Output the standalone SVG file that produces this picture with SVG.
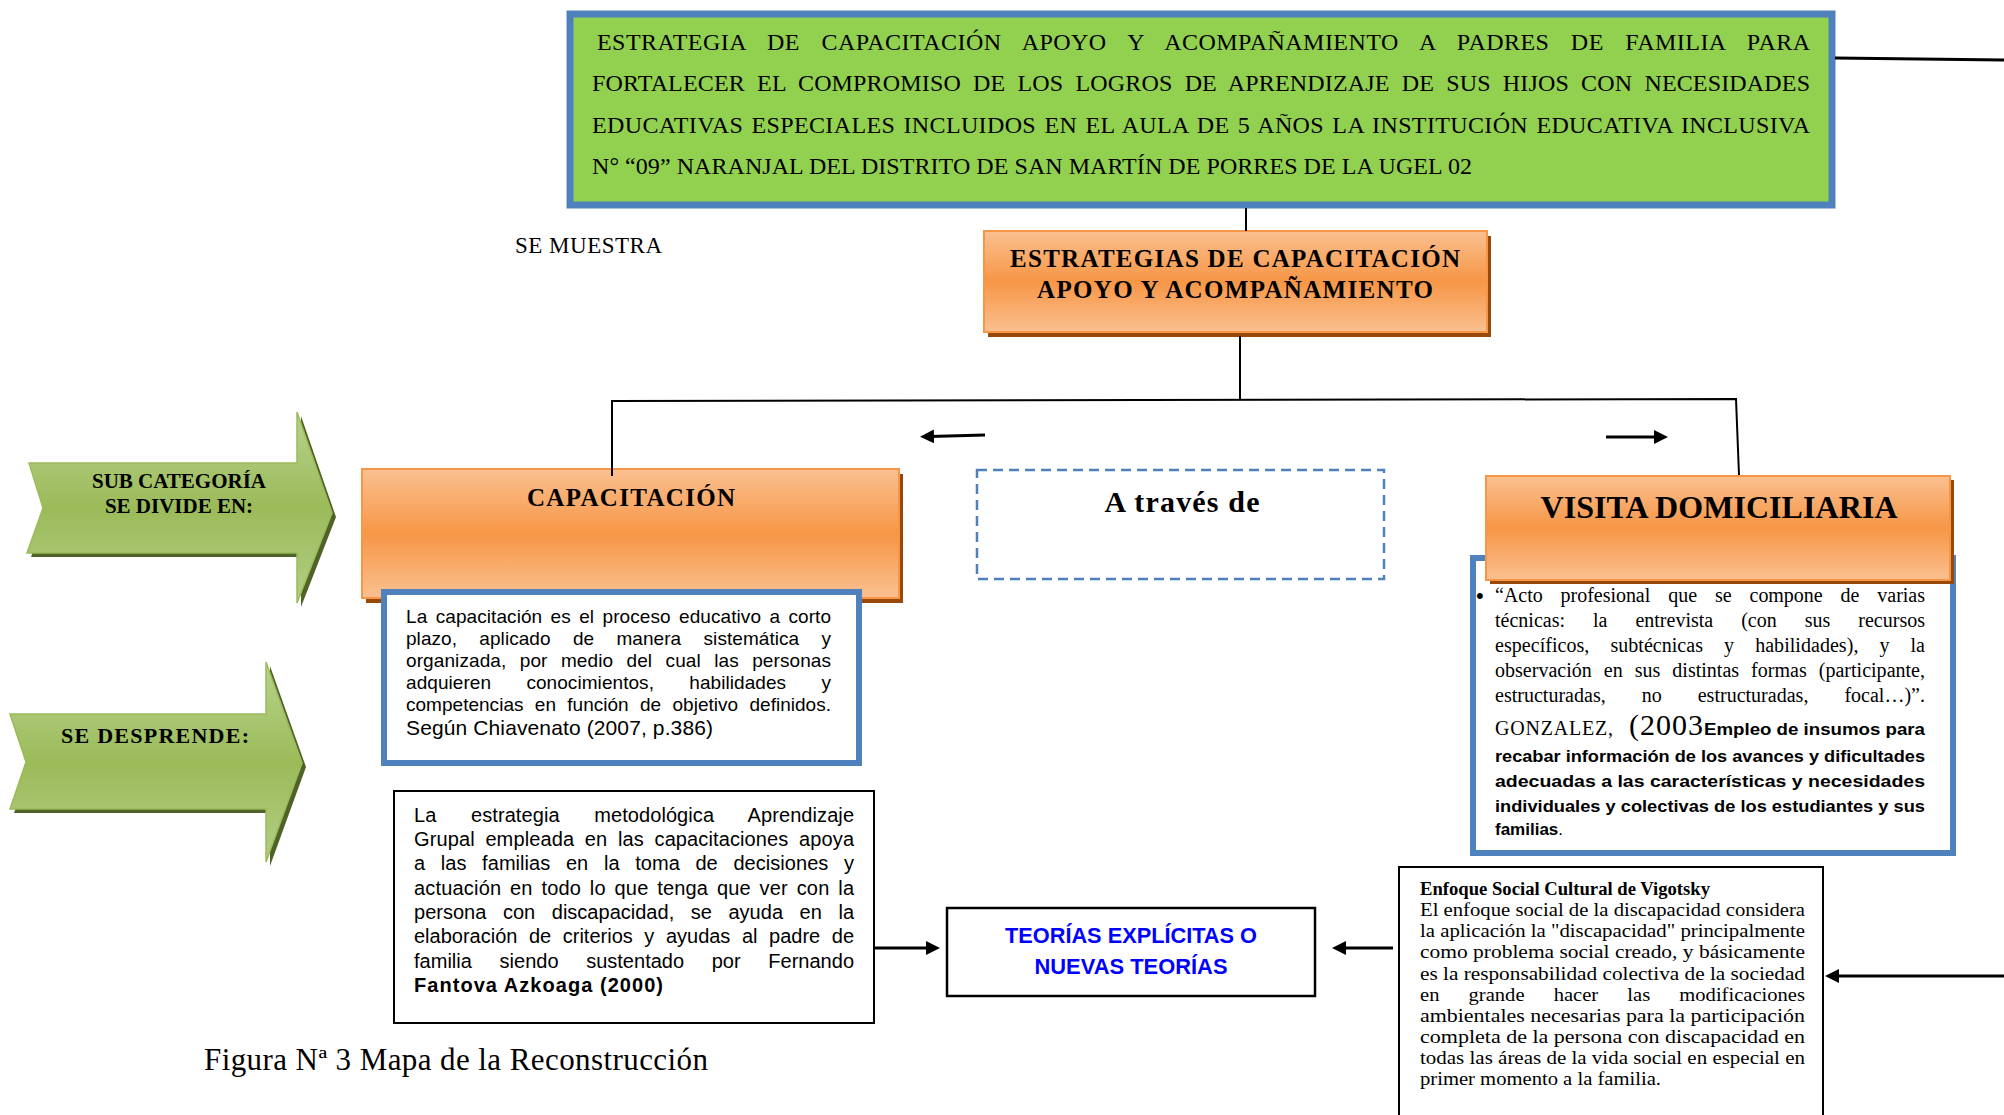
<svg xmlns="http://www.w3.org/2000/svg" width="2004" height="1115" viewBox="0 0 2004 1115">
<defs>
<linearGradient id="og" x1="0" y1="0" x2="0" y2="1">
<stop offset="0" stop-color="#FAC090"/><stop offset="0.5" stop-color="#F79646"/><stop offset="1" stop-color="#FAC090"/>
</linearGradient>
<linearGradient id="gg" x1="0" y1="0" x2="0" y2="1">
<stop offset="0" stop-color="#B9D38F"/><stop offset="0.5" stop-color="#9BBB59"/><stop offset="1" stop-color="#B3CE86"/>
</linearGradient>
<marker id="ah" viewBox="0 0 14 14" refX="4" refY="7" markerWidth="14" markerHeight="14" markerUnits="userSpaceOnUse" orient="auto">
<path d="M0,0 L14,7 L0,14 z" fill="#000"/>
</marker>
<style>
.serif{font-family:"Liberation Serif","Times New Roman",serif;}
.sans{font-family:"Liberation Sans",Arial,sans-serif;}
.b{font-weight:bold;}
.obox{fill:url(#og);stroke:#F79646;stroke-width:2;}
.oshadow{fill:#984807;}
.gar{fill:url(#gg);stroke:#9BBB59;stroke-width:1.5;}
.gshadow{fill:#4F6228;}
.bluebox{fill:#fff;stroke:#4F81BD;stroke-width:6;}
.blk{fill:#fff;stroke:#000;stroke-width:2;}
.con{fill:none;stroke:#000;stroke-width:2;}
.arr{fill:none;stroke:#000;stroke-width:3;marker-end:url(#ah);}
.title{font-size:24px;}
.vis{font-size:20px;}
.visb{font-size:17px;}
.cap{font-size:19px;}
.est{font-size:20px;}
.vig{font-size:18px;}
</style>
</defs>
<rect width="2004" height="1115" fill="#fff"/>

<g id="title-node">
<rect x="570" y="14" width="1262" height="191" fill="#92D050" stroke="#4F81BD" stroke-width="7"/>
<g class="serif title">
<text x="597" y="50" word-spacing="15" textLength="1213">ESTRATEGIA DE CAPACITACIÓN APOYO Y ACOMPAÑAMIENTO A PADRES DE FAMILIA PARA</text>
<text x="592" y="91" word-spacing="6" textLength="1218">FORTALECER EL COMPROMISO DE LOS LOGROS DE APRENDIZAJE DE SUS HIJOS CON NECESIDADES</text>
<text x="592" y="133" word-spacing="2" textLength="1218">EDUCATIVAS ESPECIALES INCLUIDOS EN EL AULA DE 5 AÑOS  LA INSTITUCIÓN EDUCATIVA INCLUSIVA</text>
<text x="592" y="174" textLength="880">N° “09” NARANJAL DEL DISTRITO DE SAN MARTÍN DE PORRES DE LA UGEL 02</text>
</g>
</g>

<g id="se-muestra">
<text class="serif" x="515" y="253" font-size="23" textLength="147">SE MUESTRA</text>
</g>

<g id="estrategias-node">
<rect class="oshadow" x="988" y="236" width="503" height="101"/>
<rect class="obox" x="984" y="231" width="503" height="101"/>
<g class="serif b" font-size="25" text-anchor="middle">
<text x="1235" y="267" textLength="450">ESTRATEGIAS DE CAPACITACIÓN</text>
<text x="1235" y="298" textLength="396">APOYO Y ACOMPAÑAMIENTO</text>
</g>
</g>

<g id="sub-categoria-arrow">
<path class="gshadow" d="M32,467 L301,467 L301,416 L336,517 L301,607 L301,557 L31,557 L47,512 Z"/>
<path class="gar" d="M29,463 L297,463 L297,412 L332,513 L297,603 L297,553 L27,553 L43,508 Z"/>
<g class="serif b" font-size="21" text-anchor="middle">
<text x="179" y="488">SUB CATEGORÍA</text>
<text x="179" y="513">SE DIVIDE EN:</text>
</g>
</g>

<g id="se-desprende-arrow">
<path class="gshadow" d="M14,718 L270,718 L270,666 L306,767 L270,866 L270,813 L14,813 L30,766 Z"/>
<path class="gar" d="M10,714 L266,714 L266,662 L302,763 L266,862 L266,809 L10,809 L26,762 Z"/>
<text class="serif b" x="155" y="743" font-size="22" text-anchor="middle" textLength="188">SE DESPRENDE:</text>
</g>

<g id="capacitacion-node">
<rect class="oshadow" x="366" y="474" width="537" height="129"/>
<rect class="obox" x="362" y="469" width="537" height="129"/>
<text class="serif b" x="631" y="506" font-size="25" text-anchor="middle" textLength="208">CAPACITACIÓN</text>
</g>

<g id="capacitacion-definicion">
<rect class="bluebox" x="384" y="592" width="475" height="171"/>
<g class="sans cap">
<text x="406" y="623" word-spacing="3" textLength="425">La capacitación es el proceso educativo a corto</text>
<text x="406" y="645" word-spacing="17" textLength="425">plazo, aplicado de manera sistemática y</text>
<text x="406" y="667" word-spacing="8" textLength="425">organizada, por medio del cual las personas</text>
<text x="406" y="689" word-spacing="30" textLength="425">adquieren conocimientos, habilidades y</text>
<text x="406" y="711" word-spacing="6" textLength="425">competencias en función de objetivo definidos.</text>
<text x="406" y="735" font-size="21" textLength="307">Según Chiavenato (2007, p.386)</text>
</g>
</g>

<g id="a-traves-de-node">
<rect x="977" y="470" width="407" height="109" fill="none" stroke="#4F81BD" stroke-width="2.5" stroke-dasharray="10,6"/>
<text class="serif b" x="1182" y="512" font-size="30" text-anchor="middle" textLength="155">A través de</text>
</g>

<g id="visita-definicion">
<rect class="bluebox" x="1473" y="558" width="480" height="295"/>
<g class="serif vis">
<text x="1476" y="603" class="sans" font-size="22">•</text>
<text x="1495" y="602" word-spacing="13" textLength="430">“Acto profesional que se compone de varias</text>
<text x="1495" y="627" word-spacing="23" textLength="430">técnicas: la entrevista (con sus recursos</text>
<text x="1495" y="652" word-spacing="16" textLength="430">específicos, subtécnicas y habilidades), y la</text>
<text x="1495" y="677" word-spacing="7" textLength="430">observación en sus distintas formas (participante,</text>
<text x="1495" y="702" word-spacing="31" textLength="430">estructuradas, no estructuradas, focal…)”.</text>
<text x="1495" y="735" textLength="118">GONZALEZ,</text>
<text x="1629" y="735" font-size="30" textLength="74">(2003</text>
</g>
<g class="sans b visb">
<text x="1704" y="735" textLength="221" lengthAdjust="spacingAndGlyphs">Empleo de insumos para</text>
<text x="1495" y="762" textLength="430" lengthAdjust="spacingAndGlyphs">recabar información de los avances y dificultades</text>
<text x="1495" y="787" textLength="430" lengthAdjust="spacingAndGlyphs">adecuadas a las características y necesidades</text>
<text x="1495" y="812" textLength="430" lengthAdjust="spacingAndGlyphs">individuales y colectivas de los estudiantes y sus</text>
<text x="1495" y="835"><tspan>familias</tspan><tspan font-weight="normal">.</tspan></text>
</g>
</g>

<g id="visita-node">
<rect class="oshadow" x="1490" y="480" width="464" height="104"/>
<rect class="obox" x="1486" y="476" width="464" height="104"/>
<text class="serif b" x="1719" y="518" font-size="32" text-anchor="middle" textLength="357">VISITA DOMICILIARIA</text>
</g>

<g id="estrategia-metodologica">
<rect class="blk" x="394" y="791" width="480" height="232"/>
<g class="sans est">
<text x="414" y="822" word-spacing="29" textLength="440">La estrategia metodológica Aprendizaje</text>
<text x="414" y="846" word-spacing="5" textLength="440">Grupal empleada en las capacitaciones apoya</text>
<text x="414" y="870" word-spacing="10" textLength="440">a las familias en la toma de decisiones y</text>
<text x="414" y="895" word-spacing="3" textLength="440">actuación en todo lo que tenga que ver con la</text>
<text x="414" y="919" word-spacing="11" textLength="440">persona con discapacidad, se ayuda en la</text>
<text x="414" y="943" word-spacing="6" textLength="440">elaboración de criterios y ayudas al padre de</text>
<text x="414" y="968" word-spacing="22" textLength="440">familia siendo sustentado por Fernando</text>
<text x="414" y="992" class="b" textLength="249">Fantova Azkoaga  (2000)</text>
</g>
</g>

<g id="teorias-node">
<rect x="947" y="908" width="368" height="88" fill="#fff" stroke="#000" stroke-width="2.5"/>
<g class="sans b" font-size="22" fill="#0000FF" text-anchor="middle">
<text x="1131" y="943" textLength="252" lengthAdjust="spacingAndGlyphs">TEORÍAS EXPLÍCITAS O</text>
<text x="1131" y="974" textLength="193" lengthAdjust="spacingAndGlyphs">NUEVAS TEORÍAS</text>
</g>
</g>

<g id="vigotsky-node">
<rect class="blk" x="1399" y="867" width="424" height="260"/>
<g class="serif vig">
<text x="1420" y="895" class="b" textLength="290" lengthAdjust="spacingAndGlyphs">Enfoque Social Cultural de Vigotsky</text>
<text x="1420" y="916" textLength="385" lengthAdjust="spacingAndGlyphs">El enfoque social de la discapacidad considera</text>
<text x="1420" y="937" textLength="385" lengthAdjust="spacingAndGlyphs">la aplicación la "discapacidad" principalmente</text>
<text x="1420" y="958" textLength="385" lengthAdjust="spacingAndGlyphs">como problema social creado, y básicamente</text>
<text x="1420" y="980" textLength="385" lengthAdjust="spacingAndGlyphs">es la responsabilidad colectiva de la sociedad</text>
<text x="1420" y="1001" word-spacing="21" textLength="385" lengthAdjust="spacingAndGlyphs">en grande hacer las modificaciones</text>
<text x="1420" y="1022" textLength="385" lengthAdjust="spacingAndGlyphs">ambientales necesarias para la participación</text>
<text x="1420" y="1043" textLength="385" lengthAdjust="spacingAndGlyphs">completa de la persona con discapacidad en</text>
<text x="1420" y="1064" textLength="385" lengthAdjust="spacingAndGlyphs">todas las áreas de la vida social en especial en</text>
<text x="1420" y="1085" textLength="241" lengthAdjust="spacingAndGlyphs">primer momento a la familia.</text>
</g>
</g>

<g id="caption">
<text class="serif" x="204" y="1070" font-size="31" textLength="504">Figura Nª 3 Mapa de la Reconstrucción</text>
</g>

<g id="connectors">
<line x1="1835" y1="58" x2="2004" y2="60" stroke="#000" stroke-width="3"/>
<line class="con" x1="1246" y1="208" x2="1246" y2="231"/>
<line class="con" x1="1240" y1="336" x2="1240" y2="400"/>
<path class="con" d="M612,476 L612,401 L1736,399 L1739,475"/>
<line class="arr" x1="985" y1="435" x2="930" y2="436.5"/>
<line class="arr" x1="1606" y1="437" x2="1658" y2="437"/>
<line class="arr" x1="875" y1="948" x2="930" y2="948"/>
<line class="arr" x1="1393" y1="948" x2="1342" y2="948"/>
<line class="arr" x1="2004" y1="976" x2="1835" y2="976"/>
</g>
</svg>
